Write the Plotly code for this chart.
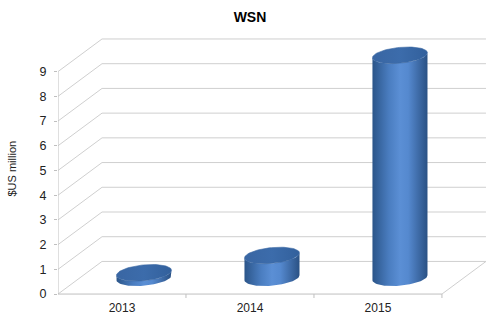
import numpy as np
import plotly.graph_objects as go

categories = ["2013", "2014", "2015"]
values = [0.2, 0.9, 9.0]
y_ticks = list(range(0, 10))
title = "WSN"
y_title = "$US million"

# perspective geometry (in axis units)
DX, DY = 0.344, 1.32          # back-plane offset
HALF_W, HALF_H = 0.215, 0.32  # cylinder half-width / ellipse half-height
SHEAR = 0.10
GRID = "#CFCFCF"

fig = go.Figure()

t = np.linspace(0, 2 * np.pi, 80)


def ellipse(xc, yc, tt):
    x = xc + HALF_W * np.cos(tt)
    y = yc + HALF_H * np.sin(tt) + SHEAR * np.cos(tt)
    return x, y


for i, (cat, v) in enumerate(zip(categories, values)):
    xc = i + DX / 2
    yb = DY / 2
    yt = yb + v
    tf = np.linspace(np.pi, 2 * np.pi, 40)
    xt_, yt_ = ellipse(xc, yt, tf)
    xb_, yb_ = ellipse(xc, yb, tf[::-1])
    bx = np.concatenate([xt_, xb_, [xt_[0]]])
    by = np.concatenate([yt_, yb_, [yt_[0]]])
    fig.add_trace(go.Scatter(
        x=bx, y=by, mode="lines", fill="toself", line=dict(width=0, color="rgba(0,0,0,0)"),
        fillgradient=dict(type="horizontal", colorscale=[
            [0, "#2B5589"], [0.3, "#4A7DC0"], [0.5, "#5B8FD5"], [0.65, "#5589CF"], [1, "#2A5184"]]),
        hoverinfo="skip", showlegend=False))
    ex, ey = ellipse(xc, yt, t)
    fig.add_trace(go.Scatter(
        x=ex, y=ey, mode="lines", fill="toself", line=dict(width=0.6, color="#3A68A3"),
        fillgradient=dict(type="horizontal", colorscale=[
            [0, "#3966A3"], [0.5, "#3C6CAB"], [1, "#32609C"]]),
        hoverinfo="skip", showlegend=False, name=cat))

shapes = []
n = len(categories)
x0, x1 = -0.5, n - 0.5
for v in y_ticks:
    shapes.append(dict(type="line", x0=x0, y0=v, x1=x0 + DX, y1=v + DY,
                       line=dict(color=GRID, width=1), layer="below"))
    shapes.append(dict(type="line", x0=x0 + DX, y0=v + DY, x1=x1 + DX, y1=v + DY,
                       line=dict(color=GRID, width=1), layer="below"))
shapes.append(dict(type="line", x0=x0, y0=0, x1=x0, y1=max(y_ticks),
                   line=dict(color="#BFBFBF", width=1), layer="below"))
shapes.append(dict(type="line", x0=x0, y0=0, x1=x1, y1=0,
                   line=dict(color="#BFBFBF", width=1), layer="below"))
shapes.append(dict(type="line", x0=x1, y0=0, x1=x1 + DX, y1=DY,
                   line=dict(color=GRID, width=1), layer="below"))
for k in range(1, n + 1):
    xb = k - 0.5
    shapes.append(dict(type="line", x0=xb, y0=0, x1=xb, y1=-0.16,
                       line=dict(color="#BFBFBF", width=1), layer="below"))

fig.update_layout(
    width=500, height=327,
    margin=dict(l=58, r=13, t=37, b=25),
    paper_bgcolor="white", plot_bgcolor="white",
    shapes=shapes,
    title=dict(text="<b>" + title + "</b>", x=0.5, xref="container", xanchor="center",
               y=1 - 17 / 327, yref="container", yanchor="middle",
               font=dict(family="Liberation Sans, Arial", size=14, color="#000000")),
    xaxis=dict(range=[-0.5, 2.852], tickvals=list(range(n)), ticktext=categories,
               showgrid=False, zeroline=False, showline=False, ticks="",
               tickfont=dict(family="Liberation Sans, Arial", size=12, color="#222222"),
               fixedrange=True),
    yaxis=dict(range=[-0.2, 10.4], tickvals=y_ticks, ticktext=[str(v) for v in y_ticks],
               showgrid=False, zeroline=False, showline=False,
               ticks="outside", ticklen=3, tickcolor="#BFBFBF", ticklabelstandoff=5,
               tickfont=dict(family="Liberation Sans, Arial", size=12.5, color="#222222"),
               fixedrange=True),
    annotations=[dict(text=y_title, textangle=-90, xref="paper", yref="paper",
                      x=(12 - 58) / 429, y=(302 - 170) / 265, xanchor="center", yanchor="middle",
                      showarrow=False,
                      font=dict(family="Liberation Sans, Arial", size=11, color="#222222"))],
)

fig.write_html("out.html")
